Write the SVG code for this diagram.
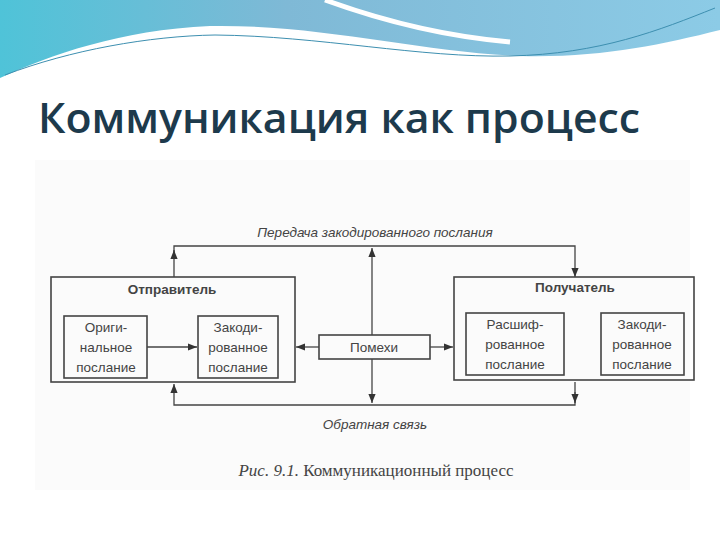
<svg xmlns="http://www.w3.org/2000/svg" width="720" height="540" viewBox="0 0 720 540">
<defs>
<linearGradient id="sky" x1="0" y1="0" x2="1" y2="0"><stop offset="0" stop-color="#4fc3d8"/><stop offset="0.4" stop-color="#7fb9d6"/><stop offset="1" stop-color="#8ccbe6"/></linearGradient>
<marker id="ar" viewBox="0 0 10 10" refX="10" refY="5" markerWidth="7" markerHeight="7" orient="auto-start-reverse"><path d="M0,1 L10,5 L0,9 z" fill="#333"/></marker>
<style>
.b{fill:none;stroke:#444;stroke-width:1.6}
.l{fill:none;stroke:#444;stroke-width:1.3}
.t{font-family:"Liberation Sans",Arial,sans-serif;font-size:13.5px;fill:#444;text-anchor:middle}
.h{font-weight:bold}
.i{font-style:italic}
</style>
</defs>
<rect width="720" height="540" fill="#fff"/>
<path d="M0,0 H720 V30 C660,45 600,58 520,56 C420,52 320,24 210,26 C120,30 50,55 0,78 Z" fill="url(#sky)"/>
<path d="M325,0 C380,20 440,36 510,42" stroke="#fff" stroke-width="5" fill="none"/>
<path d="M5,75 C70,50 150,36 215,35 C320,36 420,58 510,56 C600,54 660,30 715,8" stroke="#3d8fb0" stroke-width="1" fill="none"/>
<text x="38" y="133" font-family="'Open Sans','DejaVu Sans',sans-serif" font-size="42" font-weight="600" textLength="602" lengthAdjust="spacingAndGlyphs" fill="#1d3a4c">Коммуникация как процесс</text>
<rect x="35" y="160" width="655" height="330" fill="#fbfbfb"/>
<g id="connectors">
<path class="l" d="M174,277 V246 H575 V277" marker-end="url(#ar)"/>
<path class="l" d="M174,258 V250" marker-end="url(#ar)"/>
<path class="l" d="M372,335 V248" marker-end="url(#ar)"/>
<path class="l" d="M372,359 V403" marker-end="url(#ar)"/>
<path class="l" d="M575,382 V405 H174 V384" marker-end="url(#ar)"/>
<path class="l" d="M575,392 V403" marker-end="url(#ar)"/>
<path class="l" d="M147,347 H197" marker-end="url(#ar)"/>
<path class="l" d="M319,347 H296" marker-end="url(#ar)"/>
<path class="l" d="M430,347 H453" marker-end="url(#ar)"/>
<text class="t i" x="375" y="237">Передача закодированного послания</text>
<text class="t i" x="375" y="429">Обратная связь</text>
</g>
<g id="sender"><rect class="b" x="51" y="277" width="244" height="105"/><text class="t h" x="172" y="294">Отправитель</text></g>
<g id="orig"><rect class="b" x="64" y="316" width="83" height="62"/><text class="t" x="106" y="332">Ориги-</text><text class="t" x="106" y="352">нальное</text><text class="t" x="106" y="372">послание</text></g>
<g id="enc1"><rect class="b" x="198" y="316" width="80" height="62"/><text class="t" x="238" y="332">Закоди-</text><text class="t" x="238" y="352">рованное</text><text class="t" x="238" y="372">послание</text></g>
<g id="noise"><rect class="b" x="319" y="335" width="111" height="24"/><text class="t" x="374" y="352">Помехи</text></g>
<g id="receiver"><rect class="b" x="454" y="277" width="240" height="103"/><text class="t h" x="575" y="292">Получатель</text></g>
<g id="dec"><rect class="b" x="466" y="313" width="98" height="62"/><text class="t" x="515" y="329">Расшиф-</text><text class="t" x="515" y="349">рованное</text><text class="t" x="515" y="369">послание</text></g>
<g id="enc2"><rect class="b" x="601" y="313" width="83" height="62"/><text class="t" x="642" y="329">Закоди-</text><text class="t" x="642" y="349">рованное</text><text class="t" x="642" y="369">послание</text></g>
<text x="376" y="476" font-family="'Liberation Serif',serif" font-size="17" fill="#444" text-anchor="middle"><tspan font-style="italic">Рис. 9.1.</tspan> Коммуникационный процесс</text>
</svg>
